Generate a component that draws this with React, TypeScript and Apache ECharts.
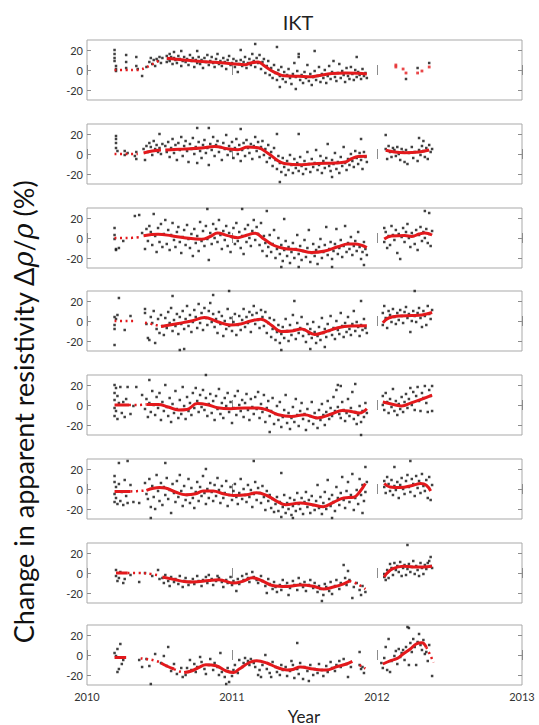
import React, { useEffect, useRef } from "react";
import * as echarts from "echarts";

// x values are hundredths of a year after 2010 (e.g. 55 -> 2010.55), y values in %
const xTickLabels = ["2010", "2011", "2012", "2013"];
const yTickValues = [-20, 0, 20];

const dots1 = [[19,20],[19,16],[19,12],[19,9],[20,4],[20,1],[20,-1],[27,15],[27,8],[27,2],[34,13],[34,4],[35,1],[38,-6],[41,3],[43,8],[44,12],[45,6],[46,10],[47,4],[48,11],[49,9],[50,13],[51,7],[52,12],
[55,14],[55,8],[56,11],[57,16],[57,9],[58,13],[59,6],[60,12],[60,18],[61,10],[62,7],[63,14],[64,11],[65,19],[65,4],[66,9],[67,13],[68,8],[69,11],[70,5],[71,15],[72,9],[73,12],[74,3],[75,10],[76,19],[76,7],[77,13],[78,6],[79,10],[80,2],[81,12],[82,8],[83,15],[84,5],[85,9],[86,13],[87,7],[88,3],[89,11],[90,16],[91,6],[92,9],[93,4],[94,12],[95,8],[96,1],[97,10],[98,14],[99,5],[100,7],[101,11],[102,3],[103,9],[104,-2],[105,6],[106,20],[106,10],[107,4],[108,8],[109,13],[110,2],[111,7],[112,11],[113,5],[114,16],[115,9],[116,26],[116,3],[117,12],[118,7],[119,15],[120,1],[121,8],[122,11],[123,-3],[124,4],[125,9],[126,-5],[127,2],[128,-8],[129,5],[130,-3],[131,23],[131,-10],[132,0],[133,-17],[133,-6],[134,3],[135,-9],[136,-2],[137,-12],[138,-5],[139,1],[140,-8],[141,-14],[142,-4],[143,7],[144,-19],[144,-7],[145,-1],[146,16],[146,13],[147,-10],[148,-5],[149,-13],[150,-2],[151,-8],[152,5],[153,-11],[154,-4],[155,-15],[156,-7],[157,19],[157,-1],[158,-10],[159,-6],[160,3],[161,-12],[162,-4],[163,-8],[164,0],[165,-13],[166,-6],[167,4],[168,-9],[169,-2],[170,9],[171,-7],[172,-11],[173,-3],[174,6],[175,-8],[176,-1],[177,-5],[178,-12],[179,2],[180,-6],[181,-9],[182,3],[183,-4],[184,-10],[185,0],[186,13],[186,-7],[187,-2],[188,-5],[189,-9],[190,1],[191,-6],[192,-3],[193,-8],
[220,-9],[228,2],[236,7]];

const dots2 = [[20,18],[20,15],[20,11],[20,6],[21,3],[26,3],[26,-1],[28,1],[33,-2],[34,-5],[34,2],[39,5],[40,-6],[41,8],[42,2],[43,11],[44,7],[45,-1],[46,13],[47,5],[48,9],[49,2],[50,20],[50,6],[51,0],[52,10],
[54,8],[55,2],[56,12],[57,-3],[58,6],[59,15],[60,1],[61,9],[62,-6],[63,11],[64,4],[65,17],[66,-2],[67,8],[68,13],[69,3],[70,-8],[71,10],[72,5],[73,16],[74,0],[75,7],[76,26],[76,-9],[77,12],[78,3],[79,-4],[80,9],[81,14],[82,1],[83,6],[84,26],[84,-11],[85,10],[86,4],[87,17],[88,-2],[89,9],[90,13],[91,2],[92,7],[93,-6],[94,11],[95,5],[96,19],[97,-1],[98,8],[99,3],[100,12],[101,-4],[102,6],[103,15],[104,0],[105,9],[106,25],[106,-7],[107,4],[108,11],[109,-2],[110,14],[111,6],[112,1],[113,10],[114,-5],[115,8],[116,17],[117,3],[118,12],[119,-3],[120,7],[121,13],[122,-1],[123,5],[124,-8],[125,9],[126,-4],[127,2],[128,-12],[129,6],[130,-6],[131,20],[131,-15],[132,-2],[133,-28],[133,-9],[134,-18],[135,-4],[136,-13],[137,-21],[138,-7],[139,-16],[140,-1],[141,-11],[142,-19],[143,-5],[144,-14],[145,-9],[146,20],[146,-17],[147,-3],[148,-12],[149,-20],[150,-7],[151,-15],[152,2],[153,-10],[154,-18],[155,-5],[156,-13],[157,-9],[158,4],[159,-16],[160,-11],[161,-2],[162,-19],[163,-7],[164,-14],[165,-4],[166,10],[167,-12],[168,-17],[169,-23],[169,-6],[170,-10],[171,1],[172,-15],[173,-8],[174,-19],[175,-3],[176,-12],[177,7],[178,-9],[179,-16],[180,-5],[181,-11],[182,0],[183,-7],[184,-13],[185,3],[186,-4],[187,-10],[188,1],[189,15],[189,-6],[190,-15],[191,2],[192,-3],[193,-8],
[206,19],[206,5],[207,-5],[208,8],[209,2],[210,-3],[211,6],[212,4],[213,-2],[214,7],[215,0],[216,-6],[217,5],[218,2],[219,-8],[220,4],[221,-10],[222,1],[224,7],[225,-4],[226,2],[228,-7],[229,16],[229,4],[230,-1],[231,8],[232,13],[232,3],[233,-3],[234,6],[235,-5],[236,9],[237,2],[238,5]];

const dots3 = [[19,10],[19,3],[19,-1],[20,-11],[20,-12],[22,-10],[25,-3],[33,22],[36,23],[38,5],[40,-11],[41,9],[42,-3],[43,12],[44,6],[45,-7],[46,24],[47,2],[48,-14],[49,10],[50,-4],[51,14],[52,-9],[53,4],
[54,18],[55,-6],[56,8],[57,-12],[58,3],[59,15],[60,-2],[61,-9],[62,6],[63,11],[64,-4],[65,-15],[66,1],[67,8],[68,-7],[69,13],[70,-1],[71,-10],[72,4],[73,-18],[74,9],[75,-5],[76,2],[77,-13],[78,16],[79,-3],[80,7],[81,-8],[82,12],[83,29],[83,-1],[84,-22],[85,5],[86,-6],[87,14],[88,0],[89,9],[90,-4],[91,18],[92,3],[93,-11],[94,7],[95,-2],[96,12],[97,-8],[98,5],[99,-14],[100,1],[101,10],[102,-6],[103,15],[104,-3],[105,6],[106,-10],[107,29],[107,2],[108,-16],[109,9],[110,-4],[111,13],[112,0],[113,-8],[114,7],[115,18],[116,-2],[117,11],[118,4],[119,-7],[120,15],[121,-13],[122,2],[123,-5],[124,27],[124,-18],[125,-9],[126,3],[127,-14],[128,-6],[129,8],[130,-20],[131,-11],[132,0],[133,-16],[134,-29],[134,-7],[135,-23],[136,19],[136,-12],[137,-3],[138,-18],[139,-9],[140,-25],[141,-14],[142,-5],[143,-20],[144,-11],[145,3],[146,-29],[146,-16],[147,-8],[148,-22],[149,-13],[150,-2],[151,-19],[152,-10],[153,8],[154,-24],[155,-15],[156,-6],[157,-18],[158,-12],[159,-26],[160,-9],[161,-1],[162,-20],[163,-14],[164,-7],[165,11],[166,-17],[167,-11],[168,-4],[169,-29],[169,-21],[170,-13],[171,-6],[172,9],[173,-16],[174,-10],[175,-2],[176,-19],[177,-8],[178,12],[179,-14],[180,-5],[181,-11],[182,1],[183,-17],[184,-8],[185,-3],[186,-13],[187,6],[188,-9],[189,-21],[190,-14],[191,-27],[191,-4],[192,-11],[193,-17],
[205,10],[205,-4],[206,6],[207,-10],[208,2],[209,-7],[210,12],[211,3],[212,-2],[213,8],[214,-15],[215,4],[216,-21],[217,1],[218,10],[219,-4],[220,6],[221,14],[222,0],[223,-9],[224,5],[225,2],[226,-6],[227,8],[228,-12],[229,3],[230,11],[231,-3],[232,6],[233,27],[233,0],[234,9],[235,-5],[236,25],[236,4],[237,-8],[238,7]];

const dots4 = [[19,4],[19,-4],[19,-8],[19,-24],[20,2],[21,6],[22,23],[26,-9],[30,5],[40,12],[40,8],[41,-3],[42,-17],[43,-19],[44,4],[45,-2],[46,10],[47,-22],[48,-8],[49,2],[50,-12],[51,6],[52,-5],
[53,-14],[54,3],[55,-7],[56,9],[57,-2],[58,13],[59,25],[59,-10],[60,1],[61,-5],[62,7],[63,-13],[64,-29],[64,4],[65,-3],[66,10],[67,-28],[67,-8],[68,2],[69,15],[70,-5],[71,6],[72,-11],[73,-1],[74,11],[75,4],[76,-7],[77,17],[78,-2],[79,8],[80,-9],[81,13],[82,3],[83,-4],[84,10],[85,18],[86,-1],[87,26],[87,7],[88,-6],[89,2],[90,-12],[91,9],[92,-3],[93,5],[94,-15],[95,0],[96,-8],[97,12],[98,30],[98,-5],[99,3],[100,-10],[101,-1],[102,7],[103,-14],[104,-4],[105,5],[106,-9],[107,1],[108,12],[109,-6],[110,4],[111,-2],[112,9],[113,-11],[114,6],[115,15],[116,-3],[117,8],[118,1],[119,-7],[120,11],[121,4],[122,-5],[123,9],[124,-12],[125,-2],[126,3],[127,-16],[128,-8],[129,1],[130,-19],[131,-11],[132,-4],[133,-22],[134,-29],[134,-13],[135,-6],[136,-17],[137,2],[138,-10],[139,-20],[140,-4],[141,-14],[142,6],[143,20],[143,-9],[144,-18],[145,-2],[146,-12],[147,-7],[148,4],[149,-15],[150,-9],[151,-21],[152,-3],[153,-13],[154,-28],[154,-8],[155,-17],[156,-1],[157,-11],[158,-22],[159,-15],[160,-6],[161,-19],[162,3],[163,-12],[164,-26],[164,-8],[165,-16],[166,-3],[167,-10],[168,5],[169,-14],[170,-7],[171,-18],[172,0],[173,-9],[174,-13],[175,8],[176,-5],[177,-16],[178,-2],[179,-11],[180,4],[181,-8],[182,-14],[183,-3],[184,10],[185,-10],[186,-1],[187,-6],[188,-15],[189,20],[189,-4],[190,-9],[191,2],[192,-7],[193,-12],
[204,8],[204,-4],[205,15],[206,3],[207,-7],[208,10],[209,6],[210,-1],[211,12],[212,4],[213,-3],[214,8],[215,1],[216,11],[217,5],[218,-2],[219,9],[220,14],[221,3],[222,7],[223,-11],[224,0],[225,10],[226,30],[226,5],[227,-1],[228,8],[229,13],[230,3],[231,-6],[232,10],[233,5],[234,-4],[235,15],[236,7],[237,2],[238,11]];

const dots5 = [[19,20],[19,12],[19,5],[19,-3],[19,-11],[20,17],[20,-6],[21,9],[21,-14],[22,2],[23,18],[24,-8],[25,3],[26,-12],[27,6],[28,18],[30,-9],[32,-1],[34,18],[38,10],[40,-4],[41,6],[42,-12],[43,25],[43,2],[44,-7],[45,14],[46,0],[47,-10],[48,8],[49,-3],[50,12],[51,-15],[52,3],
[53,-6],[54,20],[55,-2],[56,-11],[57,7],[58,-17],[59,1],[60,-8],[61,14],[62,-4],[63,-13],[64,5],[65,-9],[66,18],[67,-1],[68,-14],[69,8],[70,-6],[71,2],[72,-10],[73,12],[74,-3],[75,17],[76,4],[77,-7],[78,10],[79,-2],[80,15],[81,-5],[82,30],[82,7],[83,-11],[84,1],[85,11],[86,-8],[87,4],[88,-15],[89,9],[90,-4],[91,16],[92,-9],[93,2],[94,-13],[95,7],[96,-1],[97,12],[98,-7],[99,3],[100,-18],[101,-3],[102,9],[103,-10],[104,14],[105,0],[106,-6],[107,5],[108,-12],[109,2],[110,11],[111,-5],[112,-15],[113,6],[114,-2],[115,-9],[116,8],[117,-4],[118,13],[119,-13],[120,1],[121,-7],[122,10],[123,-17],[124,-3],[125,4],[126,-27],[126,-11],[127,-6],[128,7],[129,-19],[130,-9],[131,-1],[132,-15],[133,3],[134,-22],[135,-12],[136,-5],[137,10],[138,-18],[139,-8],[140,-24],[141,-13],[142,-2],[143,-17],[144,6],[145,-10],[146,-21],[147,-6],[148,2],[149,-14],[150,-9],[151,-25],[152,-4],[153,-16],[154,-11],[155,3],[156,-19],[157,-8],[158,-13],[159,-23],[160,-5],[161,-15],[162,1],[163,-10],[164,-20],[165,-7],[166,4],[167,-14],[168,-3],[169,-11],[170,8],[171,-6],[172,15],[173,20],[173,-2],[174,-9],[175,19],[175,-13],[176,3],[177,-5],[178,-16],[179,-8],[180,6],[181,-11],[182,-3],[183,13],[184,-14],[185,21],[185,-7],[186,-19],[187,-10],[188,-1],[189,-30],[189,-17],[190,-6],[191,-12],[192,2],[193,-8],
[204,9],[204,0],[205,-5],[206,12],[207,3],[208,-8],[209,6],[210,-2],[211,16],[212,-6],[213,4],[214,-10],[215,1],[216,-4],[217,8],[218,-7],[219,3],[220,11],[221,-3],[222,6],[223,17],[224,0],[225,13],[226,-5],[227,9],[228,18],[229,4],[230,-6],[231,12],[232,7],[233,19],[234,2],[235,-7],[236,15],[237,9],[238,19],[238,-6]];

const dots6 = [[19,13],[19,7],[19,-5],[19,-13],[20,2],[20,-9],[21,-15],[22,26],[22,5],[23,-12],[24,-3],[25,-16],[26,9],[27,-7],[28,28],[28,-14],[30,4],[32,-13],[36,-14],[40,6],[41,-5],[42,-10],[43,10],[44,-29],[44,-18],[45,3],[46,-8],[47,-20],[48,14],[49,-2],[50,-12],[51,6],
[52,-16],[53,2],[54,26],[54,-6],[55,11],[56,-10],[57,-1],[58,-24],[59,5],[60,-4],[61,-13],[62,8],[63,-8],[64,14],[65,-2],[66,-17],[67,3],[68,-11],[69,-6],[70,10],[71,-14],[72,1],[73,-9],[74,-19],[75,-3],[76,7],[77,-12],[78,2],[79,-7],[80,13],[81,-4],[82,20],[82,-15],[83,0],[84,-9],[85,6],[86,-3],[87,-12],[88,4],[89,-7],[90,11],[91,-1],[92,-14],[93,3],[94,-9],[95,-4],[96,8],[97,-17],[98,-6],[99,2],[100,-11],[101,-2],[102,5],[103,-8],[104,-15],[105,-4],[106,10],[107,-10],[108,0],[109,-6],[110,-13],[111,4],[112,-8],[113,-1],[114,-18],[115,28],[115,-5],[116,7],[117,-11],[118,1],[119,-4],[120,-14],[121,3],[122,-8],[123,-21],[124,-2],[125,-12],[126,-6],[127,-19],[128,-10],[129,-23],[130,-15],[131,-8],[132,-22],[133,-13],[134,16],[134,-28],[135,-18],[136,-6],[137,-24],[138,-14],[139,-20],[140,-9],[141,-26],[142,-29],[142,-17],[143,-11],[144,-22],[145,-4],[146,-15],[147,-20],[148,-9],[149,-25],[150,-13],[151,-3],[152,-18],[153,-11],[154,-24],[155,-7],[156,-16],[157,-21],[158,-12],[159,4],[160,-19],[161,-8],[162,-25],[163,-14],[164,-3],[165,-20],[166,9],[167,-10],[168,-17],[169,-29],[169,-6],[170,-13],[171,-22],[172,2],[173,-9],[174,-16],[175,-4],[176,12],[177,-11],[178,-19],[179,-2],[180,7],[181,-13],[182,-6],[183,15],[184,-21],[185,-9],[186,-1],[187,-15],[188,10],[189,-6],[190,-24],[190,4],[191,-12],[192,22],[192,-3],[193,7],
[205,8],[205,2],[206,-4],[207,12],[208,5],[209,-2],[210,9],[211,-6],[212,22],[212,3],[213,-1],[214,7],[215,-9],[216,4],[217,11],[218,0],[219,-5],[220,8],[221,14],[222,2],[223,28],[223,-3],[224,10],[225,5],[226,-7],[227,13],[228,1],[229,8],[230,-4],[231,15],[232,3],[233,-2],[234,9],[235,-9],[236,12],[237,-11],[238,4]];

const dots7 = [[20,3],[20,-3],[21,-8],[22,-5],[23,1],[25,-10],[26,-6],[30,-2],[36,-9],[40,0],[45,-3],[49,3],[50,-6],
[52,-5],[53,-10],[54,-2],[56,-8],[57,-13],[58,-4],[60,-9],[61,-6],[63,-11],[64,-3],[66,-14],[67,-8],[68,-5],[70,-12],[71,-9],[73,-6],[74,-11],[76,-3],[77,-8],[79,-13],[80,-7],[82,-4],[83,-10],[84,-2],[86,-6],[87,-12],[89,-8],[90,-3],[91,-5],[93,-9],[94,-14],[96,-7],[97,-10],[99,-4],[100,-12],[101,-8],[103,-18],[104,-6],[105,-11],[107,-3],[108,-7],[110,-1],[111,-5],[112,-9],[114,1],[115,-4],[117,-7],[118,-10],[120,-3],[121,-8],[123,-13],[124,-20],[125,-6],[126,-11],[128,-16],[129,-9],[130,-14],[131,-19],[133,-12],[134,-17],[135,-7],[137,-13],[138,-10],[139,-22],[140,-15],[142,-8],[143,-12],[145,-17],[146,-5],[147,-11],[149,-14],[150,-9],[151,-18],[153,-12],[154,-7],[156,-15],[157,-10],[159,-19],[160,-13],[161,-16],[162,-28],[163,-22],[164,-11],[165,-14],[167,-18],[168,-9],[169,-21],[171,-13],[172,-7],[174,-16],[175,-10],[177,8],[178,-5],[179,-12],[180,2],[181,-7],[183,-25],[184,-14],[186,-10],[188,-17],[189,-22],[190,-13],[192,-19],
[205,-4],[205,-1],[206,-7],[207,3],[208,-5],[209,9],[210,5],[211,-2],[212,10],[213,3],[214,7],[215,1],[216,11],[217,-3],[218,5],[219,8],[220,-2],[221,28],[221,4],[222,9],[223,1],[224,6],[225,12],[226,-1],[227,7],[228,3],[229,-3],[230,10],[231,5],[232,-1],[233,8],[234,4],[235,10],[236,12],[237,16],[237,7],[238,5]];

const dots8 = [[19,2],[20,-1],[21,6],[21,-17],[22,-14],[23,11],[24,-9],[25,-5],[36,-5],[38,-12],[41,-4],[43,-11],[44,-29],[47,1],
[51,-8],[53,-1],[55,-11],[56,8],[58,-16],[60,-9],[62,-19],[65,-13],[66,-22],[68,-20],[69,-13],[71,-5],[72,-15],[74,-9],[75,-17],[76,-12],[78,-2],[79,-7],[81,-14],[82,-19],[84,-10],[85,-4],[87,-15],[88,-8],[90,-12],[91,-20],[92,2],[93,-17],[95,-22],[96,-29],[97,-13],[98,-27],[100,-21],[101,-15],[102,-10],[104,-18],[105,-5],[107,-12],[108,-8],[109,-3],[111,-6],[112,-10],[113,-4],[115,-8],[116,-12],[118,-20],[119,-15],[120,-22],[121,-10],[123,0],[124,-14],[126,-18],[127,-22],[128,-7],[130,-12],[131,-17],[133,-20],[134,-10],[135,-15],[137,-12],[138,-21],[140,-16],[141,-6],[142,-10],[143,-23],[145,12],[145,-14],[146,-19],[147,-8],[149,-24],[150,-12],[152,-16],[153,-26],[154,-10],[156,-20],[157,-14],[159,-18],[160,-9],[162,-15],[163,-21],[165,-11],[166,-17],[168,-7],[169,-13],[171,-16],[172,-10],[174,-6],[175,-12],[177,-4],[179,-9],[180,-22],[182,-12],[188,3],[188,-10],[189,-14],[190,-12],[191,-18],
[203,-8],[204,-13],[205,-3],[206,8],[207,-15],[208,16],[209,-17],[210,-6],[212,-1],[213,4],[214,-9],[215,6],[216,-2],[217,2],[218,5],[219,-5],[220,8],[221,28],[222,27],[222,-10],[223,12],[224,3],[225,16],[226,8],[227,-10],[228,13],[229,21],[230,10],[231,5],[232,15],[233,1],[234,3],[235,-6],[236,10],[238,-21]];

// red smoothed trend: solid segments and dotted segments
const solid1 = [[[55,11.7],[60,11],[67,10],[79,8.5],[90,7.5],[102,6],[109,5.3],[113,7],[118,8],[122,4.5],[127,-0.5],[132,-4],[136,-5.7],[146,-6.3],[155,-6.8],[159,-5.8],[169,-3.5],[178,-3],[187,-3.3],[193,-4]]];
const dotted1 = [[[19,0],[27,0],[34,0],[37,0.5],[40,2],[44,5],[48,8],[51,10.5]]];
const redPts1 = [[213,5],[213,3],[218,1],[220,-3],[228,-3],[231,-1],[236,3]];

const solid2 = [[[39,1],[45,3],[51,4]],[[54,4],[60,4.5],[67,5],[79,6],[88,7.5],[97,5.3],[104,4.3],[111,7],[118,6.3],[125,0.5],[132,-7],[136,-9.5],[148,-10.7],[159,-9.5],[171,-9],[178,-8],[182,-5],[187,-2.5],[193,-2.3]],[[206,3.7],[212,2],[219,1.3],[229,2],[236,4]]];
const dotted2 = [[[19,0],[27,0],[35,0]]];

const solid3 = [[[39,2.3],[49,3.7],[58,2.3],[67,0.3],[79,-1.3],[85,1.5],[90,5],[97,2.4],[104,0.3],[109,2.3],[116,4.7],[122,-1],[129,-7.5],[136,-10.5],[146,-12],[155,-14.5],[164,-13],[173,-8.8],[180,-6],[185,-6],[193,-9.5]],[[205,-1],[210,2],[219,2.4],[224,1.5],[229,4],[233,5],[238,3]]];
const dotted3 = [[[19,0],[28,0],[38,1]]];

const solid4 = [[[51,-5.5],[53,-5],[63,-2.4],[72,0],[81,3.4],[90,-0.7],[99,-4],[106,-3],[113,0],[120,1.7],[127,-4],[134,-10.5],[141,-10],[148,-8],[157,-13.5],[164,-11],[173,-6.8],[182,-5],[193,-4.7]],[[204,-1.7],[208,3],[215,5],[224,5.4],[231,6],[238,8.5]]];
const dotted4 = [[[19,0],[27,0],[34,0]],[[40,-1.7],[46,-3.5],[51,-5.5]]];

const solid5 = [[[19,0],[29,0]],[[41,0.5],[49,0.5],[56,-2],[63,-5],[69,-4.5],[76,1.4],[83,0.3],[90,-2.7],[99,-3.7],[109,-3],[118,-3],[125,-5.4],[132,-9.8],[141,-11.5],[150,-9.8],[159,-12.9],[169,-8.8],[176,-5.4],[182,-6.4],[188,-8],[193,-3.7]],[[204,3],[212,0.3],[217,-1],[224,2.4],[231,5.8],[238,9.8]]];
const dotted5 = [[[29,0],[35,0],[41,0.5]]];

const solid6 = [[[19,-2.4],[30,-2.4]],[[41,-1.4],[50,1.4],[54,1],[61,-3],[68,-5.8],[75,-4.8],[80,-2],[87,-2],[94,-4.8],[101,-6.5],[110,-5.8],[117,-3.8],[124,-6.5],[131,-12.3],[137,-15.7],[147,-14],[156,-16],[163,-17.7],[170,-13.3],[177,-8.9],[184,-8.2],[188,-3],[192,5.5]],[[205,5.5],[209,2],[216,1.4],[225,3.8],[230,5.5],[234,3.8],[237,-2]]];
const dotted6 = [[[30,-2.4],[36,-2],[41,-1.4]]];

const solid7 = [[[20,0],[28,0]],[[52,-4],[61,-6.8],[67,-8.5],[73,-9],[84,-7.5],[91,-6.8],[101,-10],[108,-8],[114,-4.7],[121,-8],[128,-12.5],[138,-13.6],[147,-12],[156,-13.2],[163,-16],[170,-14],[177,-10.8],[181,-8]],[[205,-4],[207,0],[211,4.4],[218,6.8],[225,6],[232,6],[238,6.8]]];
const dotted7 = [[[28,0],[36,0],[44,-1],[50,-2.5]],[[181,-8],[185,-10],[189,-13],[192,-16]]];

const solid8 = [[[19,-2.4],[27,-2.4]],[[51,-8],[55,-11],[60,-14]],[[67,-17.5],[72,-16],[77,-12.5],[82,-9.8],[89,-10.8],[96,-16],[101,-17.6],[105,-14],[112,-7.5],[117,-5.8],[124,-8],[131,-12.5],[138,-15],[142,-14.5],[147,-11.9],[156,-14],[165,-15],[172,-11.9],[179,-9],[183,-6.4]],[[204,-9],[209,-5.8],[214,-3.4],[218,1],[223,6],[227,11],[231,12.2],[234,7.8]]];
const dotted8 = [[[37,-3.4],[44,-4.7],[50,-7]],[[60,-14],[64,-16.5],[67,-17.5]],[[188,-10],[190,-12],[192,-13.5]],[[234,7.8],[237,-1],[239,-7.5]]];

const panels = [
  { dots: dots1, solid: solid1, dotted: dotted1, red: redPts1 },
  { dots: dots2, solid: solid2, dotted: dotted2, red: [] },
  { dots: dots3, solid: solid3, dotted: dotted3, red: [] },
  { dots: dots4, solid: solid4, dotted: dotted4, red: [] },
  { dots: dots5, solid: solid5, dotted: dotted5, red: [] },
  { dots: dots6, solid: solid6, dotted: dotted6, red: [] },
  { dots: dots7, solid: solid7, dotted: dotted7, red: [] },
  { dots: dots8, solid: solid8, dotted: dotted8, red: [] },
];

const panelTops = [40, 124, 208, 291, 375, 459, 543, 625];
const FRAME = "#a9a9a9";
const RED = "#e3191c";
const FONT = "Lato, 'Open Sans', sans-serif";

const toXY = (p: number[]) => [2010 + p[0] / 100, p[1]];

export default function App() {
  const ref = useRef<HTMLDivElement>(null);
  useEffect(() => {
    if (!ref.current) return;
    const chart = echarts.init(ref.current, null, { renderer: "svg" });
    const grid: any[] = [];
    const xAxis: any[] = [];
    const yAxis: any[] = [];
    const series: any[] = [];
    panels.forEach((pn, i) => {
      grid.push({ left: 87, top: panelTops[i], width: 435, height: 60, show: true, borderColor: FRAME, borderWidth: 1, containLabel: false });
      const tickStyle = { show: true, inside: true, length: 5, lineStyle: { color: "#8c8c8c", width: 1 } };
      xAxis.push({
        gridIndex: i, type: "value", min: 2010, max: 2013, interval: 1, position: "bottom",
        axisLine: { show: false }, axisTick: tickStyle, splitLine: { show: false },
        axisLabel: { show: i === 7, color: "#333", fontSize: 11, fontFamily: FONT, margin: 6,
          formatter: (v: number) => xTickLabels[Math.round(v - 2010)] ?? "" },
      });
      xAxis.push({
        gridIndex: i, type: "value", min: 2010, max: 2013, interval: 1, position: "top",
        axisLine: { show: false }, axisTick: tickStyle, splitLine: { show: false }, axisLabel: { show: false },
      });
      yAxis.push({
        gridIndex: i, type: "value", min: -30, max: 30, interval: 10, position: "left",
        axisLine: { show: false }, splitLine: { show: false },
        axisTick: { show: true, inside: true, length: 4, customValues: yTickValues, lineStyle: { color: "#8c8c8c" } },
        axisLabel: { show: true, customValues: yTickValues, color: "#333", fontSize: 11, fontFamily: FONT, margin: 4 },
      });
      yAxis.push({
        gridIndex: i, type: "value", min: -30, max: 30, interval: 10, position: "right",
        axisLine: { show: false }, splitLine: { show: false },
        axisTick: { show: true, inside: true, length: 4, customValues: yTickValues, lineStyle: { color: "#8c8c8c" } },
        axisLabel: { show: false },
      });
      const xi = 2 * i;
      const yi = 2 * i;
      series.push({
        type: "scatter", xAxisIndex: xi, yAxisIndex: yi, data: pn.dots.map(toXY),
        symbol: "rect", symbolSize: 2.5, itemStyle: { color: "#111" }, silent: true, z: 2,
      });
      pn.solid.forEach((seg) => {
        series.push({
          type: "line", xAxisIndex: xi, yAxisIndex: yi, data: seg.map(toXY), smooth: 0.4,
          showSymbol: false, symbol: "none", lineStyle: { color: RED, width: 3 }, silent: true, z: 4,
        });
      });
      pn.dotted.forEach((seg) => {
        series.push({
          type: "line", xAxisIndex: xi, yAxisIndex: yi, data: seg.map(toXY), smooth: 0.4,
          showSymbol: false, symbol: "none", lineStyle: { color: RED, width: 2.5, type: [2, 3.5] }, silent: true, z: 4,
        });
      });
      if (pn.red.length) {
        series.push({
          type: "scatter", xAxisIndex: xi, yAxisIndex: yi, data: pn.red.map(toXY),
          symbol: "rect", symbolSize: 2.8, itemStyle: { color: RED }, silent: true, z: 4,
        });
      }
    });
    chart.setOption({
      animation: false,
      backgroundColor: "#fff",
      grid, xAxis, yAxis, series,
      graphic: [
        { type: "text", x: 298, y: 22, style: { text: "IKT", fontSize: 20, fontFamily: FONT, fill: "#222", textAlign: "center", textVerticalAlign: "middle" } },
        { type: "text", x: 304, y: 716, style: { text: "Year", fontSize: 17, fontFamily: FONT, fill: "#222", textAlign: "center", textVerticalAlign: "middle" } },
        {
          type: "text", x: 23, y: 412, rotation: Math.PI / 2,
          style: {
            text: "Change in apparent resistivity Δ{i|ρ}/{i|ρ} (%)", fontSize: 27, fontFamily: FONT, fill: "#111",
            textAlign: "center", textVerticalAlign: "middle",
            rich: { i: { fontStyle: "italic", fontSize: 27, fontFamily: "'DejaVu Serif', serif", fill: "#111" } },
          },
        },
      ],
    });
    return () => chart.dispose();
  }, []);
  return <div ref={ref} style={{ position: "fixed", left: 0, top: 0, width: 539, height: 725 }} />;
}
